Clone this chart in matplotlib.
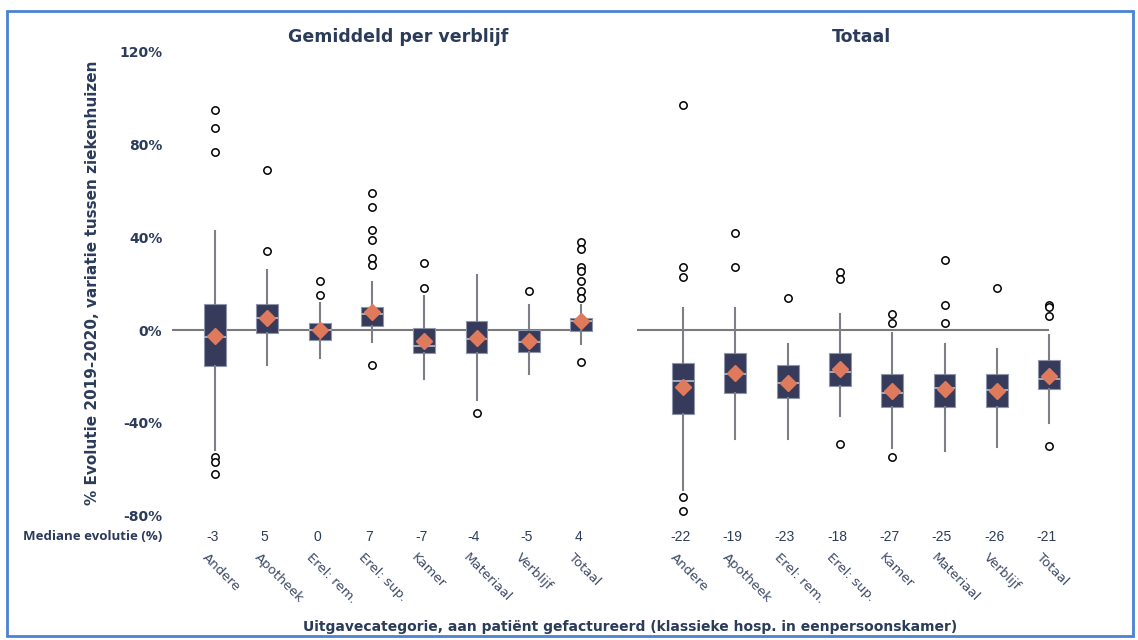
# -*- coding: utf-8 -*-

import matplotlib
matplotlib.use("Agg")
import matplotlib.pyplot as plt
import matplotlib.transforms as mtransforms
from matplotlib.patches import Rectangle

# Kostencategorieen (zelfde volgorde in beide panelen)
categories = ["Andere", "Apotheek", "Erel: rem.", "Erel: sup.",
              "Kamer", "Materiaal", "Verblijf", "Totaal"]

# Paneel 1: gemiddeld per verblijf (% evolutie 2019-2020)
avg_median = [-3, 5, 0, 7, -7, -4, -5, 4]
avg_q1 = [-15.4, -1.3, -4.3, 1.9, -10.1, -10.1, -9.5, -0.3]
avg_q3 = [11.2, 11.2, 3.2, 10.1, 0.9, 3.9, -0.1, 5.0]
avg_whislo = [-51.8, -15.1, -12.2, -5.0, -21.1, -30.2, -19.0, -6.0]
avg_whishi = [42.9, 25.9, 11.8, 20.9, 14.7, 23.7, 10.8, 10.8]
avg_mean = [-2.5, 5.2, 0.0, 7.9, -4.6, -3.3, -4.7, 3.7]
avg_fliers = [
    [95, 87, 77, -55, -57, -62],
    [69, 34],
    [21, 15],
    [59, 53, 43, 39, 31, 28, -15],
    [29, 18],
    [-36],
    [17],
    [38, 35, 27, 25.5, 21, 17, 14, -14],
]

# Paneel 2: totaal (% evolutie 2019-2020)
tot_median = [-22, -19, -23, -18, -27, -25, -26, -21]
tot_q1 = [-36.3, -27.3, -29.5, -24.2, -33.4, -33.4, -33.4, -25.3]
tot_q3 = [-14.1, -10.1, -15.0, -10.1, -19.1, -19.1, -19.1, -13.1]
tot_whislo = [-69.0, -47.2, -47.2, -37.0, -51.1, -52.1, -50.3, -40.0]
tot_whishi = [9.6, 9.6, -6.2, 6.8, -1.4, -6.2, -8.3, -2.3]
tot_mean = [-24.7, -18.7, -23.0, -16.7, -26.3, -25.4, -26.3, -19.7]
tot_fliers = [
    [97, 27, 23, -72, -78],
    [42, 27],
    [14],
    [25, 22, -49],
    [7, 3, -55],
    [30, 11, 3],
    [18],
    [11, 10, 6, -50],
]

y_ticks = [-80, -40, 0, 40, 80, 120]
y_tick_labels = ["-80%", "-40%", "0%", "40%", "80%", "120%"]

NAVY = "#2b3b5a"
BOX_FILL = "#363b5b"
BOX_EDGE = "#8f95aa"
MEDIAN_COLOR = "#b9bdc8"
WHISKER_COLOR = "#7d7f87"
MEAN_COLOR = "#e07a5c"

FIG_W, FIG_H = 1138, 640


def make_stats(median, q1, q3, whislo, whishi, mean, fliers):
    stats = []
    for i in range(len(median)):
        stats.append({
            "med": median[i],
            "q1": q1[i],
            "q3": q3[i],
            "whislo": whislo[i],
            "whishi": whishi[i],
            "mean": mean[i],
            "fliers": fliers[i],
        })
    return stats


def draw_panel(fig, left_px, first_center_px, line_from, line_to, stats, medians, title, title_x):
    unit = 52.3
    width_px = 470
    ax = fig.add_axes([left_px / FIG_W, (FIG_H - 520) / FIG_H,
                       width_px / FIG_W, 480 / FIG_H])
    x0 = -(first_center_px - left_px) / unit
    ax.set_xlim(x0, x0 + width_px / unit)
    ax.set_ylim((330 - 520) / 2.317, (330 - 40) / 2.317)

    ax.hlines(0, line_from, line_to, color="#7a7a7a", lw=1.5, zorder=1)

    ax.bxp(stats, positions=range(len(stats)), widths=0.42,
           patch_artist=True, showmeans=True, showcaps=False,
           boxprops=dict(facecolor=BOX_FILL, edgecolor=BOX_EDGE, lw=0.8),
           medianprops=dict(color=MEDIAN_COLOR, lw=1.2),
           whiskerprops=dict(color=WHISKER_COLOR, lw=1.5),
           meanprops=dict(marker="D", markerfacecolor=MEAN_COLOR,
                          markeredgecolor=MEAN_COLOR, markersize=8.5),
           flierprops=dict(marker="o", markerfacecolor="white",
                           markeredgecolor="black", markersize=5.3,
                           markeredgewidth=1.1),
           zorder=2)

    for spine in ax.spines.values():
        spine.set_visible(False)
    ax.set_xticks([])
    ax.patch.set_alpha(0)

    trans = mtransforms.blended_transform_factory(ax.transData, fig.transFigure)
    for i in range(len(categories)):
        ax.text(i - 0.05, (FIG_H - 537) / FIG_H, "%d" % medians[i],
                transform=trans, ha="center", va="center",
                fontsize=10, color=NAVY, family="Liberation Sans")
        ax.text(i - 0.12, (FIG_H - 551) / FIG_H, categories[i],
                transform=trans, rotation=-45, rotation_mode="anchor",
                ha="left", va="top", fontsize=9.5, color="#3d4a68")

    fig.text(title_x / FIG_W, (FIG_H - 37) / FIG_H, title,
             ha="center", va="center", fontsize=12.5, fontweight="bold", color=NAVY)
    return ax


def main():
    fig = plt.figure(figsize=(FIG_W / 100, FIG_H / 100), dpi=100)

    avg_stats = make_stats(avg_median, avg_q1, avg_q3, avg_whislo,
                           avg_whishi, avg_mean, avg_fliers)
    tot_stats = make_stats(tot_median, tot_q1, tot_q3, tot_whislo,
                           tot_whishi, tot_mean, tot_fliers)

    ax1 = draw_panel(fig, 172, 215, -0.82, 7.21, avg_stats, avg_median,
                     "Gemiddeld per verblijf", 398)
    ax1.set_yticks(y_ticks)
    ax1.set_yticklabels(y_tick_labels, fontsize=10, fontweight="bold", color=NAVY)
    ax1.tick_params(axis="y", length=0, pad=7)

    ax2 = draw_panel(fig, 630, 683, -0.88, 7.0, tot_stats, tot_median,
                     "Totaal", 862)
    ax2.set_yticks([])

    fig.text(93 / FIG_W, (FIG_H - 283) / FIG_H,
             "% Evolutie 2019-2020, variatie tussen ziekenhuizen",
             rotation=90, ha="center", va="center",
             fontsize=11, fontweight="bold", color=NAVY)

    fig.text(162 / FIG_W, (FIG_H - 537) / FIG_H, "Mediane evolutie (%)",
             ha="right", va="center", fontsize=9.5, fontweight="bold",
             family="Open Sans", color=NAVY)

    fig.text(630 / FIG_W, (FIG_H - 627) / FIG_H,
             "Uitgavecategorie, aan patiënt gefactureerd (klassieke hosp. in eenpersoonskamer)",
             ha="center", va="center", fontsize=10, fontweight="bold", color=NAVY)

    # blauwe kader rond de figuur
    fig.patches.append(Rectangle((7 / FIG_W, 4 / FIG_H), 1126 / FIG_W, 625 / FIG_H,
                                 transform=fig.transFigure, fill=False,
                                 edgecolor="#4a82d4", lw=2))

    fig.savefig("out.png", dpi=100)
    return 0


if __name__ == "__main__":
    ret = main()
    print("Program returned: %d" % (ret))
